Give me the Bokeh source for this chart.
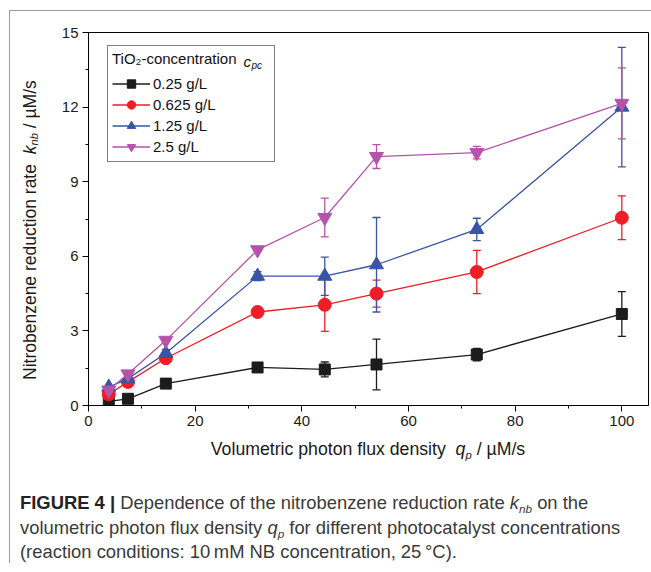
from bokeh.plotting import figure
from bokeh.models import (ColumnDataSource, Whisker, TeeHead, Legend, LegendItem, Label,
                          SingleIntervalTicker, Range1d, Div)
from bokeh.layouts import column, row
from bokeh.embed import file_html
from bokeh.resources import INLINE

# ---------------- data ----------------
flux = [3.8, 7.4, 14.5, 31.7, 44.3, 54.0, 72.8, 100.0]
series_labels = ["0.25 g/L", "0.625 g/L", "1.25 g/L", "2.5 g/L"]
rate_025 = [0.17, 0.27, 0.88, 1.53, 1.45, 1.65, 2.05, 3.68]
err_025 = [0.0, 0.0, 0.0, 0.0, 0.30, 1.02, 0.25, 0.90]
rate_0625 = [0.45, 0.95, 1.90, 3.76, 4.05, 4.50, 5.37, 7.55]
err_0625 = [0.0, 0.0, 0.0, 0.0, 1.07, 0.54, 0.87, 0.88]
rate_125 = [0.74, 1.08, 2.10, 5.20, 5.20, 5.66, 7.08, 12.00]
err_125 = [0.0, 0.0, 0.15, 0.18, 0.77, 1.90, 0.45, 2.40]
rate_25 = [0.62, 1.27, 2.62, 6.26, 7.56, 10.01, 10.17, 12.15]
err_25 = [0.0, 0.0, 0.0, 0.0, 0.78, 0.48, 0.25, 1.43]

x_tick_step = 20
y_tick_step = 3

FONT = "Liberation Sans"
colors = ["#1c1c1c", "#ee1d26", "#3a54a5", "#b653a9"]
markers = ["square", "circle", "triangle", "inverted_triangle"]
sizes = [11, 13, 14, 14]

p = figure(width=601, height=424, x_range=Range1d(0, 105), y_range=Range1d(0, 15),
           output_backend="svg", toolbar_location=None, margin=0,
           min_border_left=38, min_border_right=3, min_border_top=21, min_border_bottom=30)
p.grid.visible = False
p.outline_line_color = "black"
p.outline_line_alpha = 1.0
p.outline_line_width = 1
p.background_fill_color = "white"
p.border_fill_color = "white"

p.xaxis.ticker = SingleIntervalTicker(interval=x_tick_step, num_minor_ticks=2)
p.yaxis.ticker = SingleIntervalTicker(interval=y_tick_step, num_minor_ticks=2)
for ax in (p.xaxis[0], p.yaxis[0]):
    ax.major_tick_in = 0
    ax.major_tick_out = 6
    ax.minor_tick_in = 0
    ax.minor_tick_out = 3
    ax.axis_line_color = "black"
    ax.major_tick_line_color = "black"
    ax.minor_tick_line_color = "black"
    ax.major_label_text_font = FONT
    ax.major_label_text_font_size = "15px"
    ax.major_label_text_color = "#1a1a1a"
    ax.major_label_standoff = 4

all_rates = [rate_025, rate_0625, rate_125, rate_25]
all_errs = [err_025, err_0625, err_125, err_25]
items = []
for name, ys, es, c, m, s in zip(series_labels, all_rates, all_errs, colors, markers, sizes):
    src = ColumnDataSource(dict(x=flux, y=ys,
                                upper=[a + b for a, b in zip(ys, es)],
                                lower=[a - b for a, b in zip(ys, es)]))
    w = Whisker(base="x", upper="upper", lower="lower", source=src,
                line_color=c, line_width=1.3,
                upper_head=TeeHead(size=8, line_color=c, line_width=1.3),
                lower_head=TeeHead(size=8, line_color=c, line_width=1.3))
    p.add_layout(w)
    lr = p.line("x", "y", source=src, line_color=c, line_width=1.3)
    sr = p.scatter("x", "y", source=src, marker=m, size=s, fill_color=c, line_color=c)
    items.append(LegendItem(label=name, renderers=[lr, sr]))

legend = Legend(items=items, location=(19, 243), margin=0,
                title="TiO\u2082-concentration",
                title_text_font=FONT, title_text_font_size="15px", title_text_font_style="normal",
                title_text_color="#111111", title_standoff=6,
                label_text_font=FONT, label_text_font_size="15px", label_text_color="#111111",
                glyph_width=38, glyph_height=21, label_height=21, label_width=117,
                spacing=0, padding=4,
                label_standoff=3, border_line_color="black", border_line_width=1,
                background_fill_alpha=0.0)
p.add_layout(legend)

# italic "c" with subscript "pc" after the legend title (frame-relative pixels)
p.add_layout(Label(x=155, y=344, x_units="screen", y_units="screen", text="c",
                   text_font=FONT, text_font_size="15px", text_font_style="italic",
                   text_color="#111111", text_baseline="alphabetic", level="overlay"))
p.add_layout(Label(x=163, y=340, x_units="screen", y_units="screen", text="pc",
                   text_font=FONT, text_font_size="10px", text_font_style="italic",
                   text_color="#111111", text_baseline="alphabetic", level="overlay"))

SUB = 'style="font-size:0.64em;line-height:0;vertical-align:-0.35em"'

ytitle = Div(width=40, height=424, margin=0, text=(
    '<div style="margin-left:10px;margin-top:69px;height:300px;line-height:20px;'
    'writing-mode:vertical-rl;transform:rotate(180deg);text-align:center;white-space:nowrap;'
    'font-family:\'Liberation Sans\',Arial,sans-serif;font-size:17.5px;color:#1a1a1a;">'
    f'Nitrobenzene reduction rate&nbsp;&nbsp;<i>k</i><sub {SUB}><i>nb</i></sub> / \u00b5M/s</div>'))

bottom = Div(width=641, height=128, margin=0, text=(
    '<div style="font-family:\'Liberation Sans\',Arial,sans-serif;padding-top:4px;">'
    '<div style="margin-left:78px;width:560px;text-align:center;font-size:17.7px;line-height:20px;'
    'color:#1a1a1a;white-space:nowrap;">'
    f'Volumetric photon flux density&nbsp;&nbsp;<i>q</i><sub {SUB}><i>p</i></sub> / \u00b5M/s</div>'
    '<div style="margin-top:32px;margin-left:10px;font-size:18.4px;line-height:24.5px;color:#3a3a3a;'
    'white-space:nowrap;">'
    '<b style="color:#222">FIGURE 4 |</b> Dependence of the nitrobenzene reduction rate '
    f'<i>k</i><sub {SUB}><i>nb</i></sub> on the<br>'
    f'volumetric photon flux density <i>q</i><sub {SUB}><i>p</i></sub> for different photocatalyst concentrations<br>'
    '(reaction conditions: 10&#8201;mM NB concentration, 25&#8201;\u00b0C).</div></div>'))

layout = column(row(ytitle, p, margin=0), bottom, margin=0,
                styles={"border-top": "1px solid #9a9a9a", "border-left": "1px solid #9a9a9a",
                        "margin-top": "10px", "margin-left": "9px"})

open("out.html", "w").write(file_html(layout, INLINE))
